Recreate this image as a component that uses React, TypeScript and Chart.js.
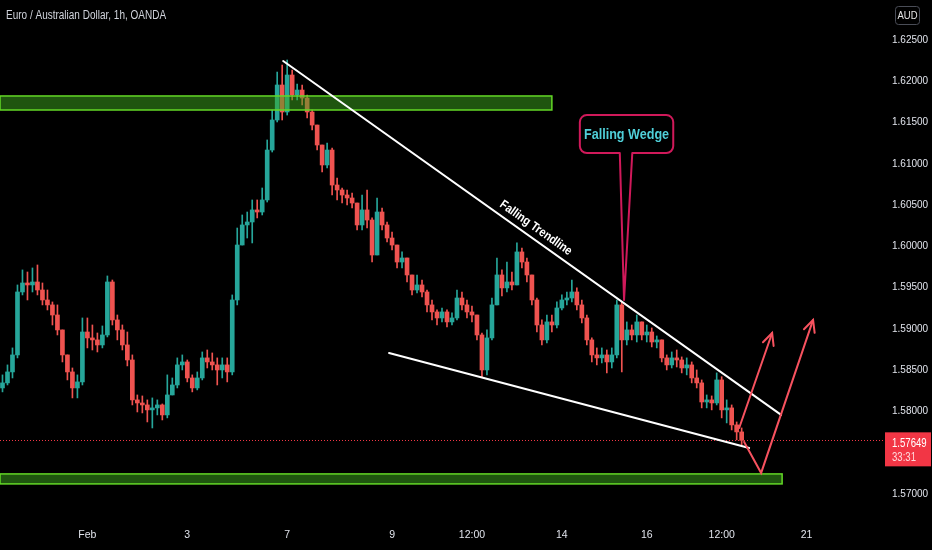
import React, { useEffect, useRef } from 'react';
import { Chart, registerables } from 'chart.js';

Chart.register(...registerables);

const TITLE = 'Euro / Australian Dollar, 1h, OANDA';
const CURRENCY = 'AUD';
const COUNTDOWN = '33:31';
const FIRST_OPEN = 1.58284;

const closes = [
  1.58345, 1.58478, 1.58684, 1.59447, 1.59556, 1.59532, 1.59568, 1.59471, 1.5935, 1.5929,
  1.59168, 1.58987, 1.58684, 1.58478, 1.58284, 1.58357, 1.58962, 1.5889, 1.58866, 1.58805,
  1.58926, 1.59568, 1.59108, 1.58987, 1.58805, 1.58623, 1.58139, 1.58102, 1.58078, 1.58018,
  1.58042, 1.58078, 1.57957, 1.58199, 1.5832, 1.58563, 1.58599, 1.58405, 1.58284, 1.58405,
  1.58648, 1.58599, 1.58563, 1.58502, 1.58563, 1.58478, 1.5935, 1.60016, 1.60259, 1.60295,
  1.60441, 1.60416, 1.60562, 1.61167, 1.61531, 1.61955, 1.61628, 1.62076, 1.61834, 1.61894,
  1.61797, 1.61628, 1.6147, 1.61228, 1.60986, 1.61167, 1.60743, 1.60683, 1.60622, 1.60586,
  1.60525, 1.60259, 1.60441, 1.60319, 1.59895, 1.60416, 1.60259, 1.60101, 1.60016, 1.5981,
  1.59859, 1.59653, 1.59471, 1.59532, 1.59447, 1.5929, 1.59205, 1.59132, 1.59205, 1.59084,
  1.59132, 1.59374, 1.5929, 1.59205, 1.59168, 1.58926, 1.58502, 1.5889, 1.5929, 1.59653,
  1.59496, 1.59568, 1.59532, 1.59932, 1.5981, 1.59653, 1.5935, 1.59047, 1.58866, 1.59084,
  1.59047, 1.59253, 1.5935, 1.59374, 1.59447, 1.5929, 1.59132, 1.58866, 1.58684, 1.58648,
  1.58684, 1.58599, 1.58684, 1.5929, 1.58866, 1.58987, 1.58926, 1.59084, 1.58926, 1.58962,
  1.58841, 1.58866, 1.58648, 1.58563, 1.58648, 1.58623, 1.58526, 1.58563, 1.58405, 1.58345,
  1.58114, 1.58139, 1.58102, 1.58381, 1.58018, 1.58042, 1.57836, 1.57751, 1.57649,
];

const highs = [
  1.58442, 1.58563, 1.58769, 1.59532, 1.59714, 1.59689, 1.59738, 1.59774, 1.59556, 1.59471,
  1.59326, 1.5929, 1.58987, 1.58684, 1.58526, 1.58442, 1.59132, 1.59132, 1.59047, 1.5895,
  1.59035, 1.59641, 1.59592, 1.59168, 1.59047, 1.58962, 1.58684, 1.58199, 1.58187, 1.58139,
  1.58163, 1.58139, 1.5809, 1.58442, 1.58405, 1.58648, 1.58684, 1.58623, 1.58442, 1.58478,
  1.5872, 1.58744, 1.58708, 1.58648, 1.58648, 1.58648, 1.59411, 1.60222, 1.6038, 1.60416,
  1.60562, 1.60562, 1.60707, 1.61289, 1.61652, 1.62112, 1.62197, 1.62258, 1.62137, 1.61967,
  1.61955, 1.61834, 1.61652, 1.6147, 1.61228, 1.61252, 1.61192, 1.60828, 1.60707, 1.60683,
  1.60646, 1.60501, 1.60622, 1.60683, 1.60344, 1.60586, 1.60465, 1.60295, 1.60174, 1.60016,
  1.59932, 1.59859, 1.59653, 1.59653, 1.59592, 1.59471, 1.5935, 1.59229, 1.59253, 1.59229,
  1.59193, 1.59471, 1.59447, 1.5935, 1.59277, 1.59168, 1.5895, 1.58987, 1.59374, 1.59859,
  1.59714, 1.5981, 1.59689, 1.60041, 1.5998, 1.59859, 1.59653, 1.59374, 1.59108, 1.59168,
  1.59168, 1.59326, 1.59411, 1.59447, 1.59592, 1.59496, 1.5935, 1.59168, 1.5889, 1.58769,
  1.58769, 1.58744, 1.58769, 1.5935, 1.59326, 1.59084, 1.59047, 1.59168, 1.59084, 1.59047,
  1.59011, 1.58914, 1.58866, 1.58684, 1.5872, 1.58744, 1.5866, 1.58648, 1.58599, 1.58502,
  1.58381, 1.58199, 1.58187, 1.58466, 1.5842, 1.58139, 1.58078, 1.57872, 1.57799,
];

const lows = [
  1.58236, 1.5832, 1.58405, 1.58648, 1.59411, 1.5935, 1.59447, 1.59411, 1.5929, 1.59229,
  1.59047, 1.58926, 1.58599, 1.58381, 1.58163, 1.58163, 1.5832, 1.58769, 1.58744, 1.5872,
  1.58769, 1.58902, 1.59047, 1.58866, 1.58744, 1.58551, 1.58078, 1.57993, 1.57981, 1.57872,
  1.57799, 1.57957, 1.57896, 1.57921, 1.58199, 1.58284, 1.58502, 1.58357, 1.58236, 1.5826,
  1.58381, 1.58526, 1.58502, 1.5832, 1.58405, 1.58357, 1.58442, 1.5929, 1.60016, 1.60101,
  1.60041, 1.60344, 1.6038, 1.60537, 1.61143, 1.61507, 1.61531, 1.61591, 1.61773, 1.61773,
  1.61713, 1.61555, 1.6141, 1.61167, 1.60901, 1.60949, 1.60622, 1.60562, 1.60525, 1.60501,
  1.60465, 1.60198, 1.60198, 1.60222, 1.5981, 1.59895, 1.60198, 1.60053, 1.59956, 1.59738,
  1.59738, 1.59568, 1.59411, 1.59435, 1.59387, 1.59205, 1.59108, 1.59047, 1.59084, 1.59023,
  1.59047, 1.59108, 1.59229, 1.59132, 1.59084, 1.58866, 1.58417, 1.58442, 1.58866, 1.5929,
  1.59399, 1.59447, 1.59471, 1.59532, 1.59738, 1.59568, 1.5929, 1.58962, 1.58805, 1.58829,
  1.58962, 1.59011, 1.59229, 1.5929, 1.59326, 1.59229, 1.59072, 1.58805, 1.58599, 1.58563,
  1.58587, 1.58466, 1.58526, 1.58648, 1.58478, 1.58805, 1.58866, 1.58841, 1.58866, 1.58841,
  1.58781, 1.58769, 1.58599, 1.58502, 1.58526, 1.58538, 1.58466, 1.58442, 1.58345, 1.58284,
  1.58042, 1.58042, 1.58018, 1.58078, 1.57921, 1.5786, 1.57775, 1.57654, 1.57593,
];

// time axis: slots (hour groups) and their labels
const TOTAL_SLOTS = 177;
const tickSlots = [17, 37, 57, 78, 94, 112, 129, 144, 161];
const tickTexts = ['Feb', '3', '7', '9', '12:00', '14', '16', '12:00', '21'];

// price axis
const Y_MIN = 1.5672;
const Y_MAX = 1.62985;
const Y_STEP = 0.005;

// drawings, in (slot, price)
const topZone = [-0.5, 110.0, 1.61652, 1.61822];
const bottomZone = [-0.5, 156.1, 1.57121, 1.57242];
const upperTrend = [56.2, 1.62246, 155.9, 1.57957];
const lowerTrend = [77.4, 1.58708, 149.5, 1.57557];
const trendLabel = [106.8, 1.60222];
const calloutBox = [115.6, 1.61591, 134.3, 1.61131];
const calloutTail = [123.6, 126.1, 124.45, 1.5935];
const arrowOne = [147.5, 1.57799, 154.1, 1.5895];
const arrowTwo = [148.5, 1.5763, 151.9, 1.57254, 162.3, 1.59108];

const UP = '#26a69a';
const DOWN = '#ef5350';
const FONT = '"Liberation Sans", Arial, sans-serif';

const opens = closes.map((_, i) => (i === 0 ? FIRST_OPEN : closes[i - 1]));
const candleColors = closes.map((c, i) => (c >= opens[i] ? UP : DOWN));
const labels = Array.from({ length: TOTAL_SLOTS }, (_, i) => {
  const k = tickSlots.indexOf(i);
  return k >= 0 ? tickTexts[k] : '';
});

function P(chart: any, slot: number, price: number): [number, number] {
  return [chart.scales.x.getPixelForValue(slot), chart.scales.y.getPixelForValue(price)];
}

function narrowText(
  ctx: CanvasRenderingContext2D,
  text: string,
  x: number,
  y: number,
  font: string,
  color: string,
  align: CanvasTextAlign,
  squeeze = 0.84,
) {
  ctx.save();
  ctx.translate(x, y);
  ctx.scale(squeeze, 1);
  ctx.font = font;
  ctx.fillStyle = color;
  ctx.textAlign = align;
  ctx.textBaseline = 'middle';
  ctx.fillText(text, 0, 0);
  ctx.restore();
}

function arrowHead(ctx: CanvasRenderingContext2D, fx: number, fy: number, tx: number, ty: number) {
  const a = Math.atan2(ty - fy, tx - fx);
  const len = 13;
  const spread = Math.PI / 7;
  ctx.beginPath();
  ctx.moveTo(tx - len * Math.cos(a - spread), ty - len * Math.sin(a - spread));
  ctx.lineTo(tx, ty);
  ctx.lineTo(tx - len * Math.cos(a + spread), ty - len * Math.sin(a + spread));
  ctx.stroke();
}

const overlay = {
  id: 'overlay',
  beforeDraw(chart: any) {
    const ctx = chart.ctx;
    ctx.save();
    ctx.fillStyle = '#000000';
    ctx.fillRect(0, 0, chart.width, chart.height);
    ctx.restore();
  },
  beforeDatasetsDraw(chart: any) {
    const ctx = chart.ctx;
    const ca = chart.chartArea;
    const y = chart.scales.y.getPixelForValue(closes[closes.length - 1]);
    ctx.save();
    ctx.strokeStyle = '#f23645';
    ctx.lineWidth = 1;
    ctx.setLineDash([1, 2]);
    ctx.beginPath();
    ctx.moveTo(ca.left, Math.round(y) + 0.5);
    ctx.lineTo(ca.right, Math.round(y) + 0.5);
    ctx.stroke();
    ctx.restore();
  },
  afterDatasetsDraw(chart: any) {
    const ctx = chart.ctx;
    ctx.save();
    // zones
    for (const z of [topZone, bottomZone]) {
      const [x1, y1] = P(chart, z[0], z[3]);
      const [x2, y2] = P(chart, z[1], z[2]);
      ctx.fillStyle = 'rgba(62,170,30,0.5)';
      ctx.fillRect(x1, y1, x2 - x1, y2 - y1);
      ctx.strokeStyle = '#63d826';
      ctx.lineWidth = 1.5;
      ctx.strokeRect(x1, y1, x2 - x1, y2 - y1);
    }
    // trend lines
    ctx.strokeStyle = '#ffffff';
    ctx.lineWidth = 2;
    ctx.lineCap = 'round';
    for (const t of [upperTrend, lowerTrend]) {
      const [a, b] = P(chart, t[0], t[1]);
      const [c, d] = P(chart, t[2], t[3]);
      ctx.beginPath();
      ctx.moveTo(a, b);
      ctx.lineTo(c, d);
      ctx.stroke();
    }
    // trend label
    {
      const [a, b] = P(chart, upperTrend[0], upperTrend[1]);
      const [c, d] = P(chart, upperTrend[2], upperTrend[3]);
      const ang = Math.atan2(d - b, c - a);
      const [tx, ty] = P(chart, trendLabel[0], trendLabel[1]);
      ctx.save();
      ctx.translate(tx, ty);
      ctx.rotate(ang);
      narrowText(ctx, 'Falling Trendline', 0, 0, `bold 12.5px ${FONT}`, '#ffffff', 'center', 0.86);
      ctx.restore();
    }
    // callout
    {
      const [l, t] = P(chart, calloutBox[0], calloutBox[1]);
      const [r, btm] = P(chart, calloutBox[2], calloutBox[3]);
      const tl = chart.scales.x.getPixelForValue(calloutTail[0]);
      const tr = chart.scales.x.getPixelForValue(calloutTail[1]);
      const [px, py] = P(chart, calloutTail[2], calloutTail[3]);
      const rad = 7;
      ctx.beginPath();
      ctx.moveTo(tl, btm);
      ctx.lineTo(l + rad, btm);
      ctx.arcTo(l, btm, l, btm - rad, rad);
      ctx.lineTo(l, t + rad);
      ctx.arcTo(l, t, l + rad, t, rad);
      ctx.lineTo(r - rad, t);
      ctx.arcTo(r, t, r, t + rad, rad);
      ctx.lineTo(r, btm - rad);
      ctx.arcTo(r, btm, r - rad, btm, rad);
      ctx.lineTo(tr, btm);
      ctx.lineTo(px, py);
      ctx.closePath();
      ctx.fillStyle = '#000000';
      ctx.fill();
      ctx.strokeStyle = '#d0195a';
      ctx.lineWidth = 2;
      ctx.lineJoin = 'round';
      ctx.stroke();
      narrowText(ctx, 'Falling Wedge', (l + r) / 2, (t + btm) / 2 + 1, `bold 15px ${FONT}`, '#4fcfd8', 'center', 0.84);
    }
    // arrows
    ctx.strokeStyle = '#f7525f';
    ctx.lineWidth = 2;
    ctx.lineJoin = 'miter';
    {
      const [a, b] = P(chart, arrowOne[0], arrowOne[1]);
      const [c, d] = P(chart, arrowOne[2], arrowOne[3]);
      ctx.beginPath();
      ctx.moveTo(a, b);
      ctx.lineTo(c, d);
      ctx.stroke();
      arrowHead(ctx, a, b, c, d);
    }
    {
      const [a, b] = P(chart, arrowTwo[0], arrowTwo[1]);
      const [c, d] = P(chart, arrowTwo[2], arrowTwo[3]);
      const [e, f] = P(chart, arrowTwo[4], arrowTwo[5]);
      ctx.beginPath();
      ctx.moveTo(a, b);
      ctx.lineTo(c, d);
      ctx.lineTo(e, f);
      ctx.stroke();
      arrowHead(ctx, c, d, e, f);
    }
    ctx.restore();
  },
  afterDraw(chart: any) {
    const ctx = chart.ctx;
    const ca = chart.chartArea;
    ctx.save();
    // title
    narrowText(ctx, TITLE, 6, 16, `12.5px ${FONT}`, '#d1d4dc', 'left', 0.8);
    // currency box
    ctx.strokeStyle = '#4a4d57';
    ctx.lineWidth = 1;
    ctx.beginPath();
    (ctx as any).roundRect(895.5, 6.5, 24, 18, 3);
    ctx.stroke();
    narrowText(ctx, CURRENCY, 907.5, 16, `11px ${FONT}`, '#e6e6e6', 'center', 0.86);
    // last price box
    const last = closes[closes.length - 1];
    const y = chart.scales.y.getPixelForValue(last);
    ctx.fillStyle = '#f23645';
    ctx.fillRect(ca.right + 1, y - 8, chart.width - ca.right - 2, 34);
    narrowText(ctx, last.toFixed(5), 892, y + 3, `12px ${FONT}`, '#ffffff', 'left', 0.8);
    narrowText(ctx, COUNTDOWN, 892, y + 17, `12px ${FONT}`, '#ffd9dc', 'left', 0.8);
    ctx.restore();
  },
};

const zeroPad = (s: any) => {
  s.paddingLeft = 0;
  s.paddingRight = 0;
  s.paddingTop = 0;
  s.paddingBottom = 0;
};

export default function App() {
  const ref = useRef<HTMLCanvasElement | null>(null);
  useEffect(() => {
    if (!ref.current) return;
    const chart = new Chart(ref.current, {
      type: 'bar',
      data: {
        labels,
        datasets: [
          {
            label: 'body',
            data: closes.map((c, i) => [opens[i], c]) as any,
            backgroundColor: candleColors,
            borderWidth: 0,
            barThickness: 4,
            grouped: false,
            order: 1,
          } as any,
          {
            label: 'wick',
            data: lows.map((l, i) => [
              Math.min(l, opens[i], closes[i]),
              Math.max(highs[i], opens[i], closes[i]),
            ]) as any,
            backgroundColor: candleColors,
            borderWidth: 0,
            barThickness: 1,
            grouped: false,
            order: 2,
          } as any,
        ],
      },
      options: {
        responsive: false,
        animation: false,
        devicePixelRatio: 1,
        layout: { padding: 0, autoPadding: false },
        plugins: { legend: { display: false }, tooltip: { enabled: false } },
        scales: {
          x: {
            type: 'category',
            offset: true,
            grid: { display: false, drawTicks: false },
            border: { display: false },
            ticks: {
              autoSkip: false,
              maxRotation: 0,
              padding: 12,
              color: '#e0e3eb',
              font: { family: FONT, size: 10.5 },
            },
            afterFit: (s: any) => {
              s.height = 33;
              zeroPad(s);
            },
          },
          y: {
            position: 'right',
            min: Y_MIN,
            max: Y_MAX,
            grid: { display: false, drawTicks: false },
            border: { display: false },
            ticks: {
              stepSize: Y_STEP,
              includeBounds: false,
              padding: 8,
              color: '#e0e3eb',
              font: { family: FONT, size: 10 },
              callback: (v: any) => Number(v).toFixed(5),
            },
            afterFit: (s: any) => {
              s.width = 48;
              zeroPad(s);
            },
          },
        },
      } as any,
      plugins: [overlay],
    });
    return () => chart.destroy();
  }, []);
  return (
    <div style={{ position: 'fixed', left: 0, top: 0, width: 932, height: 550, background: '#000' }}>
      <canvas ref={ref} width={932} height={550} style={{ display: 'block' }} />
    </div>
  );
}
